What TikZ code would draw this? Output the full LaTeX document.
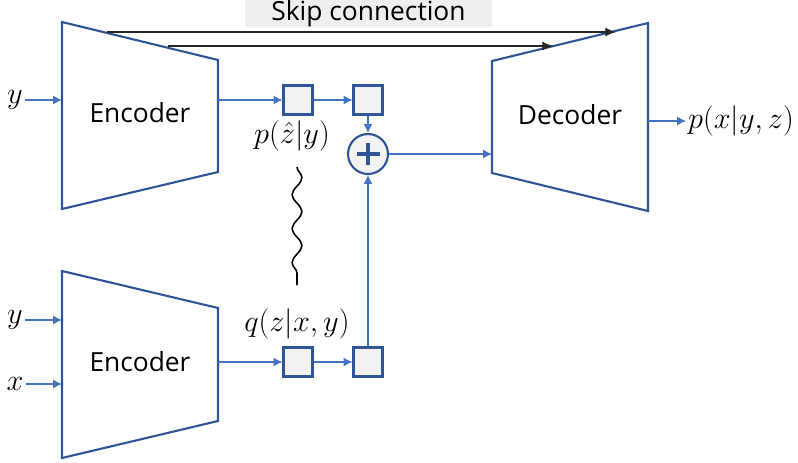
\documentclass[tikz,border=0pt]{standalone}
\usepackage{amsmath}
\usepackage{fontspec}
\setsansfont{Open Sans}
\usepackage{xcolor}
\usepackage{tikz}
\usetikzlibrary{arrows.meta}
\usetikzlibrary{decorations.pathmorphing}

\definecolor{netblue}{HTML}{2F5597}
\definecolor{flowblue}{HTML}{4472C4}
\definecolor{boxgray}{HTML}{F2F2F2}
\definecolor{skipgray}{HTML}{EFEFEF}

\tikzset{
  net/.style={draw=netblue, line width=1.2pt},
  flow/.style={draw=flowblue, line width=0.6pt, -{Latex[length=5pt,width=5pt]}},
  skipline/.style={draw=black!85, line width=0.6pt, -{Latex[length=6pt,width=5pt]}},
  latent/.style={draw=netblue, fill=boxgray, line width=1.2pt, minimum size=0.58cm, inner sep=0pt},
  netname/.style={font=\sffamily\fontsize{15}{18}\selectfont},
  mathname/.style={font=\fontsize{17}{20}\selectfont, inner sep=1pt},
}

\begin{document}
\begin{tikzpicture}[x=0.02cm, y=-0.02cm]
\useasboundingbox (0,0) rectangle (798,463);

% skip connection label
\node[fill=skipgray, minimum width=4.94cm, minimum height=0.54cm, inner sep=0pt,
      netname] (skiplabel) at (368.5,13.5) {Skip connection};

% encoders and decoder
\draw[net] (62,22) -- (218,60) -- (218,172) -- (62,209) -- cycle;
\draw[net] (62,271) -- (218,308) -- (218,421) -- (62,458) -- cycle;
\draw[net] (492,61) -- (648,23) -- (648,211) -- (492,173) -- cycle;
\node[netname] (encA) at (140,113) {Encoder};
\node[netname] (encB) at (140,362) {Encoder};
\node[netname] (dec) at (570,115) {Decoder};

\coordinate (encA-in) at (62,100);
\coordinate (encA-out) at (218,100);
\coordinate (encB-iny) at (62,320);
\coordinate (encB-inx) at (62,384);
\coordinate (encB-out) at (218,362);
\coordinate (dec-in) at (492,154);
\coordinate (dec-out) at (648,121);
\coordinate (skipA-from) at (107,32);
\coordinate (skipA-to) at (616,32);
\coordinate (skipB-from) at (168,46);
\coordinate (skipB-to) at (553,46);

% inputs and output
\node[mathname] (yA) at (15,100) {$y$};
\node[mathname] (yB) at (15,320) {$y$};
\node[mathname] (xB) at (15,384) {$x$};
\node[mathname, anchor=west] (pout) at (686,121) {$p(x|y,z)$};

% latent boxes
\node[latent] (zA1) at (298,100) {};
\node[latent] (zA2) at (368,100) {};
\node[latent] (zB1) at (298,362) {};
\node[latent] (zB2) at (368,362) {};
\node[draw=netblue, fill=boxgray, line width=1.2pt, circle, minimum size=0.8cm,
      inner sep=0pt] (add) at (368,154) {};
\draw[netblue, line width=2.2pt] ([xshift=-0.23cm]add.center) -- ([xshift=0.23cm]add.center);
\draw[netblue, line width=2.2pt] ([yshift=-0.23cm]add.center) -- ([yshift=0.23cm]add.center);

\node[mathname] (pz) at (292,136) {$p(\hat{z}|y)$};
\node[mathname] (qz) at (297,324) {$q(z|x,y)$};

% connectors
\draw[flow] (yA) -- (encA-in);
\draw[flow] (yB) -- (encB-iny);
\draw[flow] (xB) -- (encB-inx);
\draw[flow] (encA-out) -- (zA1);
\draw[flow] (zA1) -- (zA2);
\draw[flow] (zA2) -- (add);
\draw[flow] (encB-out) -- (zB1);
\draw[flow] (zB1) -- (zB2);
\draw[flow] (zB2) -- (add);
\draw[flow] (add) -- (dec-in);
\draw[flow] (dec-out) -- (pout);
\draw[skipline] (skipA-from) -- (skipA-to);
\draw[skipline] (skipB-from) -- (skipB-to);

% divergence between the two latents
\coordinate (wave-top) at (297,167);
\coordinate (wave-bot) at (297,285);
\draw[line width=0.9pt, decorate,
      decoration={snake, amplitude=2.8pt, segment length=0.68cm}] (wave-top) -- (wave-bot);
\end{tikzpicture}
\end{document}
